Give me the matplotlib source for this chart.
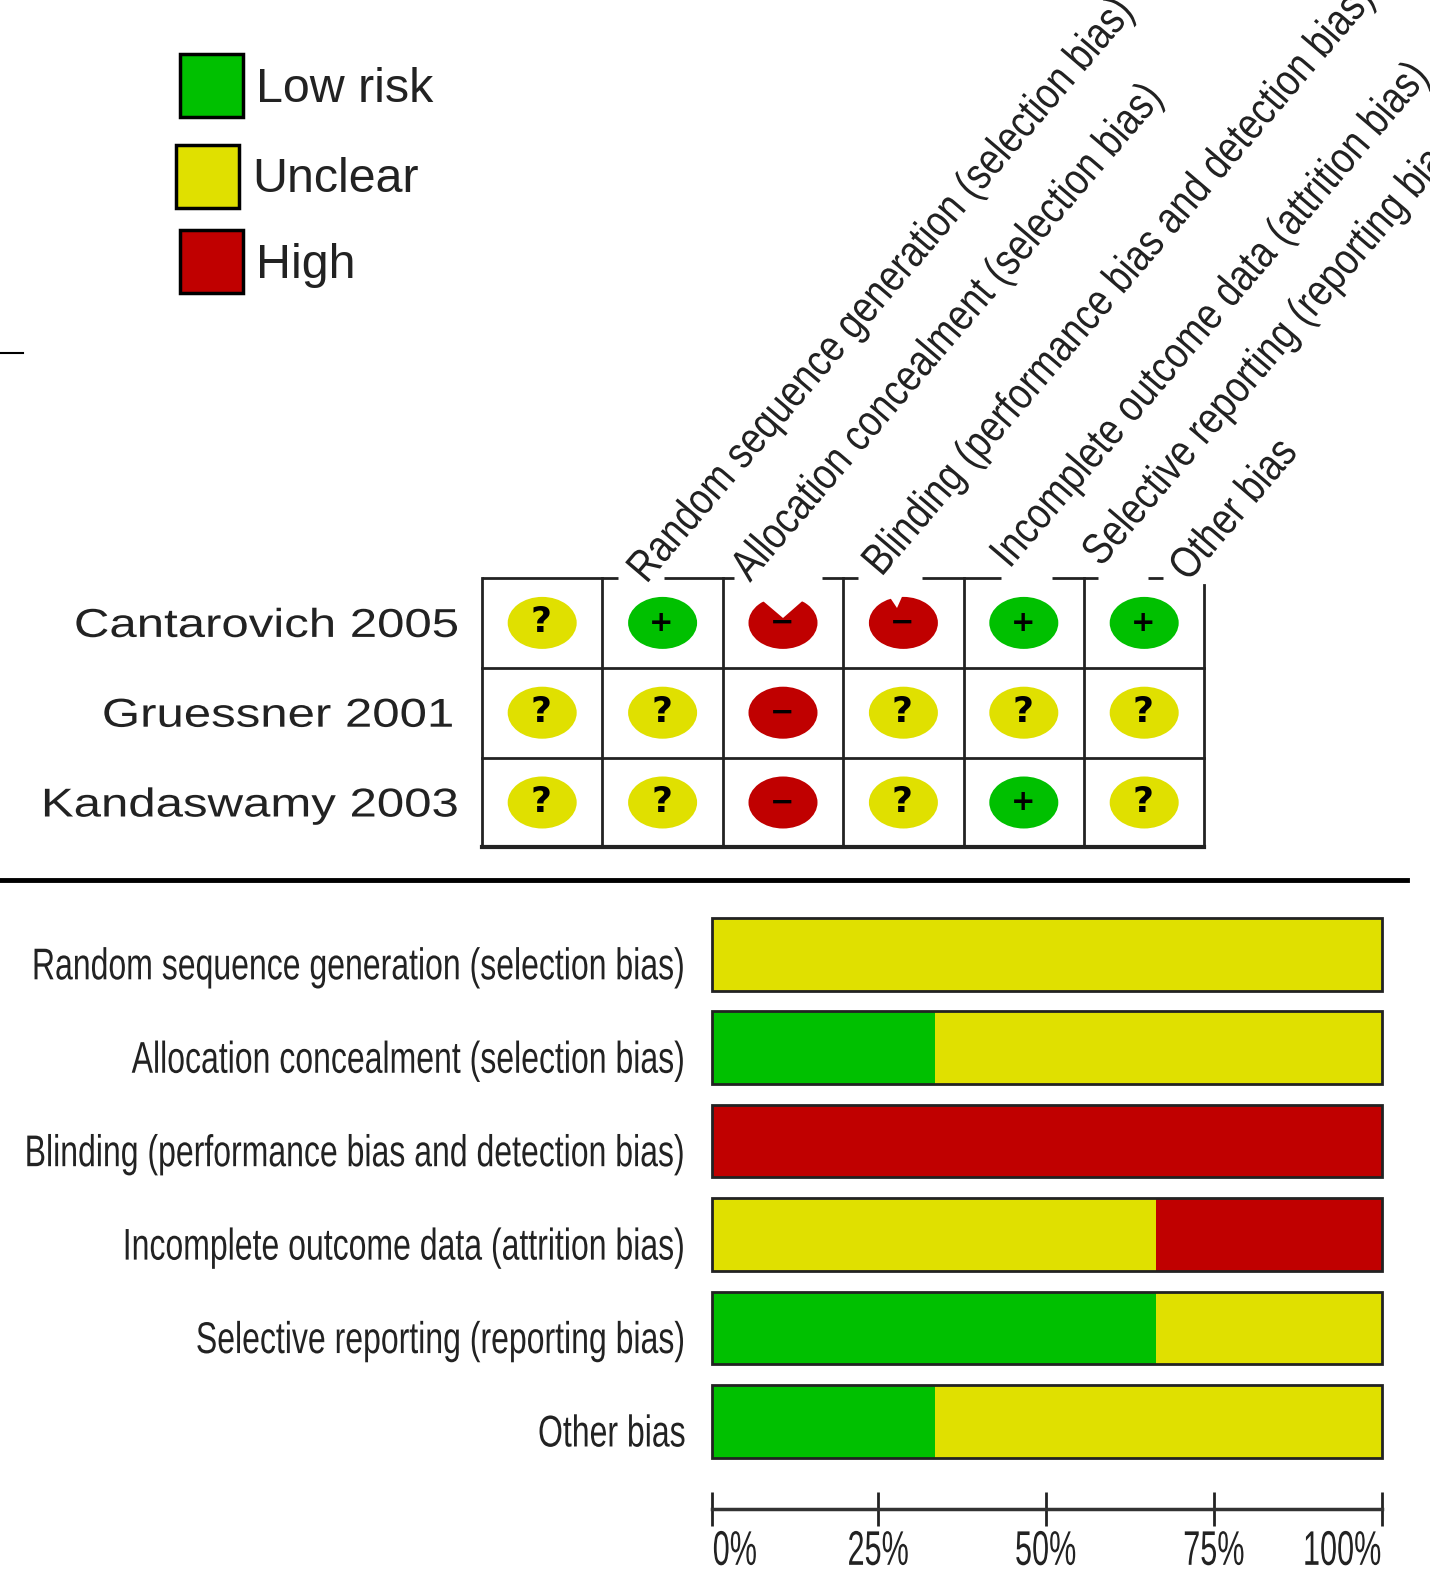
import numpy as np
import matplotlib
matplotlib.use("Agg")
import matplotlib.pyplot as plt
import matplotlib.patheffects as pe
from matplotlib.patches import Rectangle, Ellipse, Polygon
from matplotlib.transforms import Affine2D, ScaledTranslation

W, H = 1430, 1573

green = "#00c000"
yellow = "#e0e000"
red = "#c00000"
ink = "#222222"
status_colors = {"+": green, "?": yellow, "-": red}
plt.rcParams["font.family"] = "Liberation Sans"

legend_labels = ["Low risk", "Unclear", "High"]
legend_colors = [green, yellow, red]

domains = [
    "Random sequence generation (selection bias)",
    "Allocation concealment (selection bias)",
    "Blinding (performance bias and detection bias)",
    "Incomplete outcome data (attrition bias)",
    "Selective reporting (reporting bias)",
    "Other bias",
]
bar_labels = domains
studies = ["Cantarovich 2005", "Gruessner 2001", "Kandaswamy 2003"]
judgements = [
    ["?", "+", "-", "-", "+", "+"],
    ["?", "?", "-", "?", "?", "?"],
    ["?", "?", "-", "?", "+", "?"],
]

# percent of studies, per domain
low_pct = [0, 33.3, 0, 0, 66.3, 33.3]
unclear_pct = [100, 66.7, 0, 66.3, 33.7, 66.7]
high_pct = [0, 0, 100, 33.7, 0, 0]
tick_vals = [0, 24.8, 49.8, 74.9, 100]
tick_labels = ["0%", "25%", "50%", "75%", "100%"]


# the source uses squeezed/stretched type and no condensed font is installed,
# so scale the glyph outlines along the text direction
class Stretch(pe.AbstractPathEffect):
    def __init__(self, sx, align=0.0):
        super().__init__()
        self.sx = sx
        self.align = align

    def draw_path(self, renderer, gc, tpath, affine, rgbFace=None):
        ext = tpath.get_extents()
        pivot = ext.x0 + self.align * ext.width
        pre = Affine2D().translate(-pivot, 0).scale(self.sx, 1).translate(pivot, 0)
        renderer.draw_path(gc, tpath, pre + affine, rgbFace)


fig = plt.figure(figsize=(W / 100, H / 100), dpi=100)
bg = fig.add_axes([0, 0, 1, 1])
bg.set_xlim(0, W)
bg.set_ylim(H, 0)
bg.axis("off")

# 1) legend
legend_x = [180, 176, 180]
legend_y = [54, 145, 230]
legend_ty = [89, 180, 266]
for lab, col, x, y, ty in zip(legend_labels, legend_colors, legend_x, legend_y, legend_ty):
    bg.add_patch(Rectangle((x, y), 63, 63, fc=col, ec="black", lw=2.5))
    bg.text(x + 76, ty, lab, fontsize=34.8, va="center", ha="left", color=ink)

bg.plot([0, 23], [353, 353], color="black", lw=1.5)
bg.plot([0, 1407], [880, 880], color="black", lw=3.5)

# 2) summary grid, top line is broken where the rotated headers sit on it
gx0, gy0, cw, ch = 482, 578, 120.4, 89.8
nrow, ncol = len(studies), len(domains)
top_segments = [(482, 618), (664, 734), (822, 858), (922, 1001), (1052, 1098), (1148, 1163)]
for a, b in top_segments:
    bg.plot([a, b], [gy0, gy0], color=ink, lw=2, solid_capstyle="butt")
for i in range(1, nrow + 1):
    bg.plot([gx0, gx0 + ncol * cw], [gy0 + i * ch] * 2, color=ink,
            lw=3 if i == nrow else 2)
for j in range(ncol + 1):
    top = gy0 + 7 if j == ncol else gy0
    bg.plot([gx0 + j * cw] * 2, [top, gy0 + nrow * ch], color=ink, lw=2)

study_right = [459, 454, 459]
for i, study in enumerate(studies):
    cy = gy0 + (i + 0.5) * ch
    bg.text(study_right[i], cy + 3, study, ha="right", va="center", fontsize=29, color=ink,
            path_effects=[Stretch(1.22, 1.0)])
    for j, mark in enumerate(judgements[i]):
        cx = gx0 + (j + 0.5) * cw
        bg.add_patch(Ellipse((cx, cy), 69, 52, fc=status_colors[mark], ec="none"))
        if i == 0 and j == 2:
            bg.add_patch(Polygon([(750, 590), (815, 590), (783, 618)], fc="white", ec="none"))
        if i == 0 and j == 3:
            bg.add_patch(Polygon([(885, 590), (905, 590), (897, 608)], fc="white", ec="none"))
        if mark == "?":
            bg.text(cx - 1, cy - 1, mark, ha="center", va="center", fontsize=26,
                    fontweight="bold", color="black", family="DejaVu Sans", zorder=4)
        else:
            bg.text(cx - 1, cy, "+" if mark == "+" else "\u2212", ha="center", va="center",
                    fontsize=21, fontweight="bold", color="black", family="DejaVu Sans", zorder=4)

# rotated headers, baseline start of each one
header_x = [646, 750, 881, 1009, 1101, 1188]
header_y = [585, 583, 578, 570, 568, 583]
for name, hx, hy in zip(domains, header_x, header_y):
    bg.text(hx, hy, name, rotation=49.5, rotation_mode="anchor", ha="left", va="baseline",
            fontsize=32, color=ink, path_effects=[Stretch(0.83, 0.0)])

# 3) stacked bars
ax = fig.add_axes([712 / W, 1 - 1468.2 / H, (1382 - 712) / W, (1468.2 - 907.6) / H])
y = np.arange(len(bar_labels))
low = np.array(low_pct)
unclear = np.array(unclear_pct)
high = np.array(high_pct)
bh = 0.776
ax.barh(y, low, height=bh, color=green, edgecolor="none")
ax.barh(y, unclear, left=low, height=bh, color=yellow, edgecolor="none")
ax.barh(y, high, left=low + unclear, height=bh, color=red, edgecolor="none")
ax.barh(y, low + unclear + high, height=bh, fill=False, edgecolor=ink, lw=2, clip_on=False)
ax.set_xlim(0, 100)
ax.set_ylim(len(y) - 0.5, -0.5)
ax.set_yticks(y)
ax.set_yticklabels(bar_labels, fontsize=32, color=ink)
ax.tick_params(axis="y", length=0, pad=18.5)
ax.set_xticks([])
# labels sit a bit under the bar centre in the source
down = ScaledTranslation(0, -9 / 100, fig.dpi_scale_trans)
for lab in ax.get_yticklabels():
    lab.set_transform(lab.get_transform() + down)
    lab.set_path_effects([Stretch(0.72, 1.0)])
for s in ax.spines.values():
    s.set_visible(False)

# 4) percent axis drawn as its own axes
ax2 = fig.add_axes([712 / W, 1 - 1509 / H, (1382 - 712) / W, 1 / H])
ax2.set_xlim(0, 100)
ax2.set_yticks([])
ax2.patch.set_alpha(0)
ax2.set_xticks(tick_vals)
ax2.set_xticklabels(tick_labels, fontsize=35, color=ink)
for lab, ha, al in zip(ax2.get_xticklabels(), ["left", "center", "center", "center", "right"],
                       [0, 0.5, 0.5, 0.5, 1]):
    lab.set_ha(ha)
    lab.set_path_effects([Stretch(0.63, al)])
ax2.tick_params(axis="x", direction="inout", length=24, width=2, color=ink, pad=3)
for k in ["top", "left", "right"]:
    ax2.spines[k].set_visible(False)
ax2.spines["bottom"].set_linewidth(2.5)
ax2.spines["bottom"].set_color("#333333")

fig.savefig("out.png", dpi=100)
